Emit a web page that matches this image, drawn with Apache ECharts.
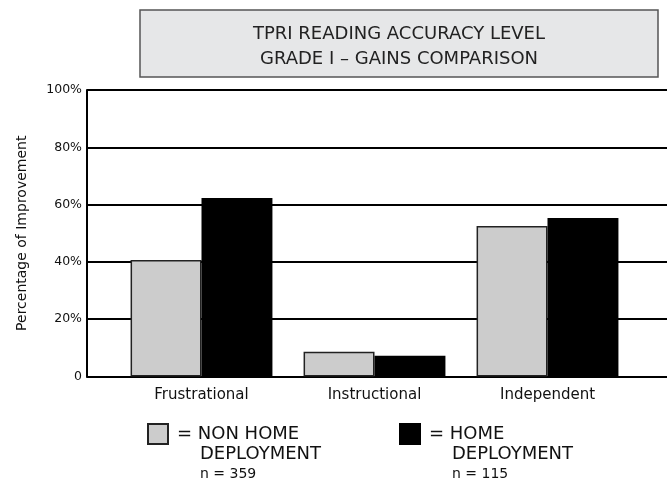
<!DOCTYPE html>
<html>
<head>
<meta charset="utf-8">
<script src="https://cdn.jsdelivr.net/npm/echarts@6/dist/echarts.min.js"></script>
<style>
  html, body { margin: 0; padding: 0; background: #fff; }
  #chart { width: 667px; height: 487px; }
</style>
</head>
<body>
<div id="chart"></div>
<script>
    // 数据
    var categories = ['Frustrational', 'Instructional', 'Independent'];
    var nonHome = [40.7, 8.6, 52.5];
    var home = [62.3, 7.2, 55.3];
    var yTicks = [0, 20, 40, 60, 80, 100];
    var titleLines = ['TPRI READING ACCURACY LEVEL', 'GRADE I \u2013 GAINS COMPARISON'];

    var font = 'DejaVu Sans';
    var chart = echarts.init(document.getElementById('chart'));

    var legendRich = {
        a: { fontSize: 18, fontFamily: font, color: '#111', lineHeight: 20, padding: [0, 0, 0, 4] },
        b: { fontSize: 18, fontFamily: font, color: '#111', lineHeight: 20, padding: [0, 0, 0, 27] },
        c: { fontSize: 14, fontFamily: font, color: '#111', lineHeight: 20, padding: [0, 0, 0, 27] }
    };

    var option = {
        animation: false,
        graphic: [
            {
                type: 'rect',
                shape: { x: 140, y: 10, width: 518, height: 67 },
                style: { fill: '#e6e7e8', stroke: '#555', lineWidth: 1.5 }
            },
            {
                type: 'text',
                x: 399, y: 34,
                style: { text: titleLines[0], align: 'center', verticalAlign: 'middle',
                         font: '18px "' + font + '"', fill: '#222' }
            },
            {
                type: 'text',
                x: 399, y: 59.5,
                style: { text: titleLines[1], align: 'center', verticalAlign: 'middle',
                         font: '18px "' + font + '"', fill: '#222' }
            }
        ],
        grid: [
            { left: 87, right: 0, top: 90, bottom: 110.5 },
            { left: 115, right: 33, top: 90, bottom: 110.5 }
        ],
        xAxis: [
            {
                gridIndex: 0, type: 'value', min: 0, max: 1,
                axisLine: { show: true, lineStyle: { color: '#000', width: 2 } },
                axisTick: { show: false }, axisLabel: { show: false }, splitLine: { show: false }
            },
            {
                gridIndex: 1, type: 'category', data: categories,
                axisLine: { show: false }, axisTick: { show: false },
                axisLabel: { color: '#111', fontSize: 15, fontFamily: font, margin: 11 }
            }
        ],
        yAxis: [
            {
                gridIndex: 0, type: 'value', min: 0, max: 100, interval: 20,
                name: 'Percentage of Improvement',
                nameLocation: 'middle', nameGap: 58,
                nameTextStyle: { color: '#111', fontSize: 14, fontFamily: font },
                axisLine: { show: true, lineStyle: { color: '#000', width: 2 } },
                axisTick: { show: false },
                axisLabel: {
                    color: '#111', fontSize: 12.5, fontFamily: font, margin: 5,
                    formatter: function (v) { return v === 0 ? '0' : v + '%'; }
                },
                splitLine: { show: true, lineStyle: { color: '#000', width: 2 } }
            },
            {
                gridIndex: 1, type: 'value', min: 0, max: 100, show: false
            }
        ],
        legend: [
            {
                data: ['NON HOME'], left: 147, top: 423, padding: 0, selectedMode: false,
                itemWidth: 20, itemHeight: 20, icon: 'rect', itemGap: 10,
                formatter: '{a|= NON HOME}\n{b|DEPLOYMENT}\n{c|n = 359}',
                textStyle: { padding: [40, 0, 0, 0], rich: legendRich }
            },
            {
                data: ['HOME'], left: 399, top: 423, padding: 0, selectedMode: false,
                itemWidth: 20, itemHeight: 20, icon: 'rect', itemGap: 10,
                formatter: '{a|= HOME}\n{b|DEPLOYMENT}\n{c|n = 115}',
                textStyle: { padding: [40, 0, 0, 0], rich: legendRich }
            }
        ],
        series: [
            {
                name: 'NON HOME', type: 'bar', xAxisIndex: 1, yAxisIndex: 1,
                data: nonHome, barGap: '0%', barCategoryGap: '18%',
                itemStyle: { color: '#cccccc', borderColor: '#222', borderWidth: 1.5 }
            },
            {
                name: 'HOME', type: 'bar', xAxisIndex: 1, yAxisIndex: 1,
                data: home, barGap: '0%', barCategoryGap: '18%',
                itemStyle: { color: '#000', borderColor: '#000', borderWidth: 1.5 }
            }
        ]
    };
    chart.setOption(option);
</script>
</body>
</html>
